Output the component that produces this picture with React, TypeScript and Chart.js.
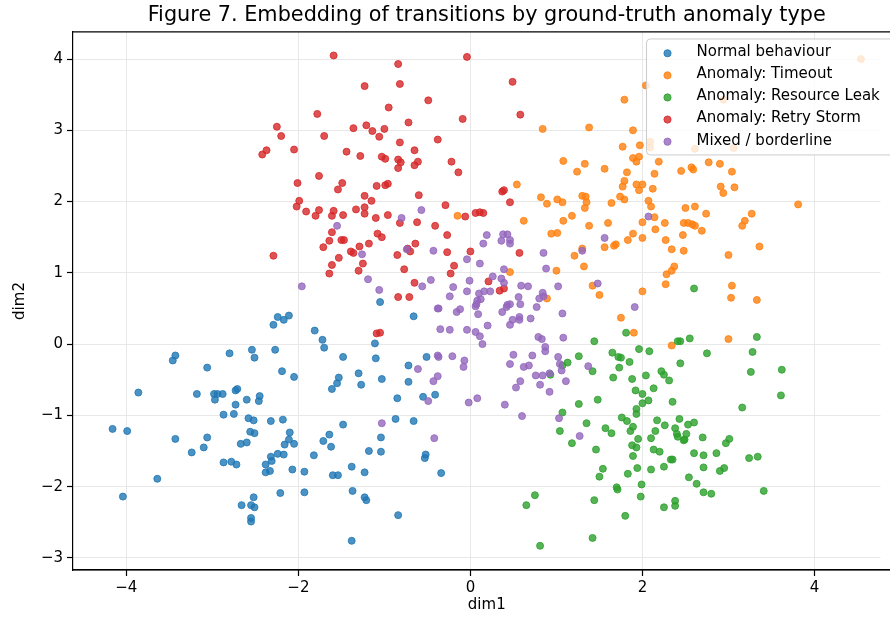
import { useEffect, useRef } from 'react';
import { Chart, registerables } from 'chart.js';

Chart.register(...registerables);

const TITLE = 'Figure 7. Embedding of transitions by ground-truth anomaly type';
const X_LABEL = 'dim1';
const Y_LABEL = 'dim2';
const X_TICKS = [-4, -2, 0, 2, 4];
const Y_TICKS = [-3, -2, -1, 0, 1, 2, 3, 4];

const SERIES_LABELS = [
  'Normal behaviour',
  'Anomaly: Timeout',
  'Anomaly: Resource Leak',
  'Anomaly: Retry Storm',
  'Mixed / borderline',
];
const SERIES_RGB = ['31,119,180', '255,127,14', '44,160,44', '214,39,40', '148,103,189'];

const normalPts: [number, number][] = [
  [-2.24, 0.38], [-2.29, 0.27], [-2.27, -0.08], [-3.43, -0.16], [-3.46, -0.23], [-2.80, -0.13],
  [-2.54, -0.08], [-2.51, -0.19], [-3.06, -0.33],
  [-1.05, 0.59], [-0.66, 0.39], [-2.17, 0.34], [-2.11, 0.40], [-1.81, 0.19], [-1.72, 0.06],
  [-1.70, -0.05], [-1.11, 0.01], [-1.48, -0.18], [-1.10, -0.20], [-0.51, -0.18], [-0.72, -0.30],
  [-2.19, -0.38], [-2.05, -0.46], [-1.53, -0.47], [-1.55, -0.55], [-1.61, -0.63], [-1.30, -0.41],
  [-1.27, -0.57], [-1.03, -0.49], [-0.72, -0.53],
  [-3.86, -0.68], [-3.18, -0.70], [-2.98, -0.70], [-2.94, -0.70], [-2.88, -0.70], [-2.97, -0.78],
  [-2.73, -0.65], [-2.71, -0.63], [-2.60, -0.78], [-2.45, -0.73], [-2.46, -0.80], [-2.73, -0.85],
  [-2.87, -0.99], [-2.75, -0.98], [-2.58, -1.04], [-2.52, -1.07], [-2.32, -1.08], [-4.16, -1.19],
  [-3.99, -1.22], [-3.43, -1.33], [-3.06, -1.31], [-3.24, -1.52], [-3.10, -1.45], [-2.56, -1.23],
  [-2.51, -1.25], [-2.67, -1.40], [-2.60, -1.38], [-2.87, -1.66], [-2.78, -1.65], [-2.72, -1.69],
  [-2.32, -1.58], [-2.31, -1.64], [-2.24, -1.54], [-2.38, -1.69], [-2.38, -1.80], [-2.33, -1.78],
  [-3.64, -1.89], [-4.04, -2.14], [-2.66, -2.26], [-2.55, -2.26], [-2.51, -2.29], [-2.52, -2.15],
  [-2.55, -2.44], [-2.55, -2.49],
  [-0.85, -0.76], [-0.55, -0.74], [-0.41, -0.71], [-2.18, -1.06], [-0.87, -1.05], [-0.66, -1.08],
  [-1.48, -1.13], [-2.10, -1.24], [-2.11, -1.34], [-2.16, -1.41], [-2.05, -1.40], [-2.17, -1.55],
  [-1.64, -1.27], [-1.71, -1.36], [-1.62, -1.44], [-1.82, -1.56], [-1.04, -1.31], [-1.18, -1.50],
  [-1.04, -1.51], [-2.07, -1.76], [-1.93, -1.79], [-1.60, -1.84], [-1.54, -1.84], [-1.38, -1.72],
  [-1.23, -1.80], [-0.52, -1.55], [-0.53, -1.60], [-0.34, -1.81], [-2.21, -2.09], [-1.93, -2.08],
  [-1.37, -2.06], [-1.23, -2.15], [-1.21, -2.19], [-0.84, -2.40], [-1.38, -2.76],
];

const timeoutPts: [number, number][] = [
  [-0.15, 1.80],
  [2.04, 3.63], [1.79, 3.43], [0.84, 3.02], [1.38, 3.04], [1.89, 3.00], [2.09, 2.84], [2.09, 2.76],
  [1.77, 2.77], [1.97, 2.79], [1.89, 2.61], [1.93, 2.56], [1.96, 2.63], [2.19, 2.56], [1.08, 2.57],
  [1.33, 2.53], [1.24, 2.42], [1.56, 2.46], [1.82, 2.41], [2.14, 2.39], [2.45, 2.43], [1.79, 2.29],
  [1.77, 2.21], [1.93, 2.24], [2.00, 2.24], [1.96, 2.16], [2.12, 2.18], [0.54, 2.24], [0.82, 2.06],
  [0.89, 1.97], [1.01, 2.03], [1.07, 1.99], [1.30, 2.08], [1.34, 2.07], [1.35, 1.99], [1.33, 1.91],
  [1.64, 1.98], [1.74, 2.07], [1.79, 2.03], [2.07, 2.01], [2.10, 1.93], [2.50, 1.91],
  [4.54, 4.00], [2.94, 3.43], [2.61, 2.74], [3.06, 2.75], [2.77, 2.55], [2.90, 2.53], [2.59, 2.45],
  [2.57, 2.48], [3.04, 2.42], [2.91, 2.21], [3.07, 2.20], [2.94, 2.12], [2.61, 1.93], [3.81, 1.96],
  [1.18, 1.80], [0.62, 1.73], [1.08, 1.73], [1.38, 1.66], [1.60, 1.70], [2.00, 1.71], [2.14, 1.78],
  [2.15, 1.61], [2.26, 1.70], [2.48, 1.70], [0.94, 1.55], [1.01, 1.56], [1.89, 1.55], [1.83, 1.46],
  [2.00, 1.49], [2.27, 1.46], [2.47, 1.53], [1.56, 1.36], [1.67, 1.38], [1.69, 1.40], [1.30, 1.34],
  [1.21, 1.24], [1.32, 1.09], [1.00, 1.03], [0.46, 1.01], [2.34, 1.33], [2.48, 1.31], [2.37, 1.09],
  [2.34, 1.03], [2.28, 0.98], [1.42, 0.82], [1.50, 0.69], [2.27, 0.84], [2.00, 0.74], [0.89, 0.64],
  [1.75, 0.37], [1.90, 0.16], [2.34, -0.02],
  [2.74, 1.83], [3.27, 1.83], [2.53, 1.70], [2.58, 1.68], [2.61, 1.66], [3.19, 1.73], [3.16, 1.66],
  [2.69, 1.59], [3.36, 1.37], [3.00, 1.25], [3.04, 0.82], [3.03, 0.65], [3.33, 0.62], [3.00, 0.07],
];

const leakPts: [number, number][] = [
  [1.81, 0.16], [1.44, 0.04], [1.26, -0.17], [1.13, -0.26], [1.07, -0.30], [0.93, -0.43], [1.42, -0.38],
  [1.65, -0.12], [1.72, -0.18], [1.75, -0.19], [1.85, -0.25], [1.73, -0.33], [1.96, -0.07], [2.08, -0.10],
  [2.41, 0.04], [2.44, 0.04], [2.44, -0.27], [2.04, -0.44], [2.22, -0.38], [2.25, -0.43], [2.31, -0.51],
  [1.66, -0.47], [1.88, -0.49], [2.13, -0.62],
  [2.60, 0.78], [2.55, 0.08], [3.33, 0.10], [2.75, -0.13], [3.28, -0.11], [3.26, -0.39], [3.62, -0.36],
  [1.48, -0.78], [1.26, -0.84], [1.07, -0.96], [1.04, -1.22], [1.35, -1.11], [1.18, -1.39], [1.46, -1.48],
  [1.57, -1.18], [1.64, -1.25], [1.76, -1.03], [1.82, -1.08], [1.89, -1.16], [1.86, -1.22], [1.93, -0.91],
  [1.93, -0.98], [1.92, -0.65], [2.00, -0.70], [2.07, -0.79], [2.00, -0.83], [1.95, -1.33], [1.88, -1.42],
  [1.93, -1.45], [1.89, -1.57], [1.94, -1.74], [1.83, -1.82], [1.54, -1.75], [1.50, -1.86], [2.10, -1.76],
  [2.10, -1.32], [2.15, -1.22], [2.17, -1.07], [2.26, -1.14], [2.35, -0.81], [2.43, -1.05], [2.38, -1.18],
  [2.40, -1.26], [2.41, -1.30], [2.48, -1.35], [2.13, -1.48], [2.20, -1.51], [2.33, -1.62], [2.35, -1.62],
  [2.25, -1.72], [1.99, -1.97], [1.98, -2.14], [1.70, -2.01], [1.71, -2.04], [1.44, -2.19], [1.80, -2.41],
  [2.38, -2.20], [2.38, -2.27], [2.25, -2.29], [0.75, -2.12], [0.65, -2.26], [1.42, -2.72], [0.81, -2.83],
  [3.61, -0.72], [3.16, -0.89], [2.60, -1.10], [2.53, -1.13], [2.51, -1.26], [2.49, -1.34], [2.70, -1.31],
  [3.01, -1.33], [2.97, -1.39], [2.60, -1.53], [2.71, -1.56], [2.86, -1.53], [3.24, -1.60], [3.34, -1.58],
  [2.71, -1.73], [2.90, -1.78], [2.95, -1.74], [2.54, -1.87], [2.63, -1.96], [2.71, -2.08], [2.80, -2.10],
  [3.41, -2.06],
];

const retryPts: [number, number][] = [
  [-2.37, 2.72], [-2.42, 2.66],
  [-1.59, 4.05], [-0.84, 3.93], [-0.04, 4.03], [-1.23, 3.62], [-0.82, 3.65], [-0.49, 3.42], [-0.95, 3.32],
  [-1.78, 3.23], [-0.09, 3.16], [-0.72, 3.11], [-2.25, 3.05], [-2.20, 2.92], [-1.36, 3.03], [-1.21, 3.07],
  [-1.14, 2.99], [-1.00, 3.02], [-1.06, 2.91], [-1.70, 2.92], [-0.38, 2.87], [-2.05, 2.73], [-0.82, 2.83],
  [-1.44, 2.70], [-1.28, 2.64], [-1.03, 2.63], [-0.99, 2.60], [-0.65, 2.72], [-0.84, 2.59], [-0.81, 2.55],
  [-0.61, 2.56], [-0.65, 2.51], [-0.84, 2.47], [-0.22, 2.56], [-0.14, 2.41], [-1.76, 2.36], [-2.01, 2.26],
  [-1.49, 2.26], [-1.54, 2.17], [-1.09, 2.22], [-0.99, 2.23], [-0.96, 2.25], [-0.60, 2.09], [-1.23, 2.08],
  [-1.15, 2.01], [-1.99, 2.01], [-2.02, 1.93], [-0.29, 1.95], [-1.33, 1.89], [-1.23, 1.92],
  [0.49, 3.68], [0.58, 3.22], [0.39, 2.16], [0.37, 2.14], [0.46, 1.99],
  [-1.91, 1.86], [-1.80, 1.80], [-1.61, 1.80], [-1.59, 1.87], [-1.76, 1.88], [-1.48, 1.81], [-1.23, 1.83],
  [-1.10, 1.77], [-0.96, 1.81], [-0.82, 1.70], [-0.62, 1.71], [-0.41, 1.66], [-0.27, 1.53], [-0.06, 1.79],
  [0.06, 1.84], [0.11, 1.85], [0.15, 1.84],
  [-1.71, 1.36], [-1.64, 1.45], [-1.61, 1.57], [-1.50, 1.46], [-1.47, 1.46], [-1.39, 1.30], [-1.36, 1.28],
  [-1.29, 1.37], [-1.18, 1.41], [-1.08, 1.55], [-1.03, 1.50], [-0.85, 1.25], [-0.73, 1.34], [-0.70, 1.30],
  [-0.64, 1.41], [-0.77, 1.05], [-0.65, 0.86], [-0.84, 0.66], [-0.71, 0.66], [-1.61, 1.11], [-1.64, 0.99],
  [-1.53, 1.21], [-1.30, 1.03], [-1.25, 1.13], [-0.27, 1.29], [-0.19, 1.10], [-0.23, 0.99], [0.00, 1.30],
  [-1.09, 0.15], [-1.05, 0.16],
  [-2.29, 1.24],
  [0.57, 1.28], [0.21, 0.88], [0.34, 0.75], [0.39, 0.78],
];

const mixedPts: [number, number][] = [
  [-0.80, 1.77], [-1.55, 1.66], [-0.57, 1.88], [-1.26, 1.26], [-0.74, 1.33], [-0.43, 1.31], [-0.04, 1.19],
  [0.11, 1.13], [-1.96, 0.81], [-1.19, 0.91], [-1.06, 0.76], [-0.56, 0.81], [-0.46, 0.90], [-0.20, 0.80],
  [-0.24, 0.67], [-0.01, 0.89], [-0.04, 0.74], [0.10, 0.71], [0.07, 0.56], [0.08, 0.61], [0.06, 0.53],
  [0.09, 0.42], [-0.38, 0.50], [-0.37, 0.50], [-0.16, 0.45], [-0.12, 0.49], [-0.35, 0.21], [-0.24, 0.20],
  [-0.04, 0.20], [0.06, 0.17], [0.11, 0.11], [-0.38, -0.16], [-0.37, -0.18], [-0.21, -0.17], [-0.07, -0.23],
  [-0.08, -0.32], [-0.61, -0.35], [-0.38, -0.45], [-0.43, -0.52],
  [2.07, 1.79], [0.19, 1.53], [0.38, 1.54], [0.43, 1.54], [0.36, 1.45], [0.46, 1.46], [0.46, 1.41],
  [0.15, 1.41], [1.56, 1.49], [1.30, 1.31], [0.85, 1.28], [0.88, 1.06], [0.39, 1.05], [0.26, 0.95],
  [0.36, 0.92], [0.39, 0.86], [0.16, 0.74], [0.23, 0.74], [0.12, 0.63], [0.59, 0.82], [0.67, 0.81],
  [1.02, 0.81], [0.84, 0.72], [0.80, 0.64], [0.85, 0.67], [0.56, 0.66], [0.58, 0.56], [0.43, 0.55],
  [0.46, 0.56], [0.42, 0.52], [0.77, 0.52], [1.48, 0.85], [1.91, 0.52], [0.37, 0.45], [0.49, 0.34],
  [0.57, 0.38], [0.57, 0.34], [0.46, 0.27], [0.70, 0.36], [1.07, 0.43], [0.20, 0.26], [0.14, 0.00],
  [0.79, 0.10], [0.83, 0.07], [0.87, -0.04], [0.87, -0.10], [1.08, 0.09], [0.50, -0.15], [0.72, -0.16],
  [1.02, -0.18], [0.46, -0.28], [0.62, -0.32], [0.68, -0.30], [1.04, -0.28], [1.06, -0.37], [1.37, -0.31],
  [0.76, -0.44], [0.84, -0.44], [0.92, -0.41], [0.58, -0.52], [0.81, -0.57], [1.11, -0.52], [0.53, -0.61],
  [-0.49, -0.80], [-0.02, -0.82], [0.08, -0.76], [-1.03, -1.11], [-0.42, -1.32],
  [0.92, -0.67], [0.40, -0.85], [0.60, -1.01], [1.03, -1.04], [1.27, -1.29],
];

const SERIES_POINTS = [normalPts, timeoutPts, leakPts, retryPts, mixedPts];

const FONT_FAMILY = 'DejaVu Sans';
const fmtTick = (v: number) => (v < 0 ? '\u2212' + Math.abs(v) : String(v));

const framePlugin = {
  id: 'frameAndLegend',
  afterDraw(chart: any) {
    const { ctx, chartArea, width } = chart;
    ctx.save();
    // keep the area right of the visible crop clean
    ctx.fillStyle = '#fff';
    ctx.fillRect(chartArea.right - 20, chartArea.top + 1, width - chartArea.right + 20, chartArea.bottom - chartArea.top - 2);
    // top spine
    ctx.strokeStyle = '#000';
    ctx.lineWidth = 1.2;
    ctx.beginPath();
    ctx.moveTo(chartArea.left, chartArea.top);
    ctx.lineTo(width, chartArea.top);
    ctx.stroke();
    // bottom spine continuation
    ctx.beginPath();
    ctx.moveTo(chartArea.left, chartArea.bottom);
    ctx.lineTo(width, chartArea.bottom);
    ctx.stroke();

    // legend
    const left = chartArea.right - 254;
    const top = chartArea.top + 7;
    const w = 262;
    const h = 116;
    ctx.beginPath();
    if (ctx.roundRect) ctx.roundRect(left, top, w, h, 4);
    else ctx.rect(left, top, w, h);
    ctx.fillStyle = 'rgba(255,255,255,0.8)';
    ctx.fill();
    ctx.strokeStyle = '#cccccc';
    ctx.lineWidth = 1;
    ctx.stroke();
    ctx.font = `15px "${FONT_FAMILY}"`;
    ctx.textBaseline = 'middle';
    ctx.textAlign = 'left';
    SERIES_LABELS.forEach((label, i) => {
      const y = top + 14.3 + i * 22.1;
      ctx.beginPath();
      ctx.arc(left + 21, y, 3.6, 0, Math.PI * 2);
      ctx.fillStyle = `rgba(${SERIES_RGB[i]},0.8)`;
      ctx.fill();
      ctx.strokeStyle = `rgba(${SERIES_RGB[i]},0.8)`;
      ctx.lineWidth = 1;
      ctx.stroke();
      ctx.fillStyle = '#000';
      ctx.fillText(label, left + 50, y - 1);
    });
    ctx.restore();
  },
};

export default function App() {
  const canvasRef = useRef<HTMLCanvasElement | null>(null);

  useEffect(() => {
    if (!canvasRef.current) return;
    const tickFont = { family: FONT_FAMILY, size: 15 };
    const datasets = SERIES_LABELS.map((label, i) => ({
      label,
      data: SERIES_POINTS[i].map(([x, y]) => ({ x, y })),
      backgroundColor: `rgba(${SERIES_RGB[i]},0.8)`,
      borderColor: `rgba(${SERIES_RGB[i]},0.8)`,
      borderWidth: 1,
      pointRadius: 3.5,
      pointHoverRadius: 3.5,
      order: SERIES_LABELS.length - i,
    }));
    const chart = new Chart(canvasRef.current, {
      type: 'scatter',
      data: { datasets },
      plugins: [framePlugin],
      options: {
        animation: false,
        responsive: false,
        events: [],
        layout: { padding: { left: 0, right: 4, top: 0, bottom: 0 } },
        plugins: {
          legend: { display: false },
          tooltip: { enabled: false },
          title: {
            display: true,
            text: TITLE,
            fullSize: false,
            color: '#000',
            font: { family: FONT_FAMILY, size: 20.8, weight: 'normal', lineHeight: 1.2 },
            padding: { top: 3, bottom: 4 },
          },
        },
        scales: {
          x: {
            type: 'linear',
            min: -4.62,
            max: 5.0,
            afterBuildTicks: (s: any) => {
              s.ticks = X_TICKS.map((v) => ({ value: v }));
            },
            afterFit: (s: any) => {
              s.height = 55;
            },
            ticks: { font: tickFont, color: '#000', padding: 3, callback: (v: any) => fmtTick(Number(v)) },
            grid: { color: '#e8e8e8', lineWidth: 1, tickColor: '#000', tickLength: 6, tickWidth: 1.2 },
            border: { display: true, color: '#000', width: 1.2 },
            title: { display: true, text: X_LABEL, color: '#000', font: tickFont, padding: { top: 0, bottom: 11 } },
          },
          y: {
            type: 'linear',
            min: -3.17,
            max: 4.38,
            afterBuildTicks: (s: any) => {
              s.ticks = Y_TICKS.map((v) => ({ value: v }));
            },
            afterFit: (s: any) => {
              s.width = 73;
            },
            ticks: { font: tickFont, color: '#000', padding: 4, callback: (v: any) => fmtTick(Number(v)) },
            grid: { color: '#e8e8e8', lineWidth: 1, tickColor: '#000', tickLength: 6, tickWidth: 1.2 },
            border: { display: true, color: '#000', width: 1.2 },
            title: { display: true, text: Y_LABEL, color: '#000', font: tickFont, padding: { top: 11, bottom: 0 } },
          },
        },
      } as any,
    });
    return () => chart.destroy();
  }, []);

  return (
    <div
      style={{
        position: 'fixed',
        left: 0,
        top: 0,
        width: 890,
        height: 625,
        overflow: 'hidden',
        background: '#fff',
      }}
    >
      <canvas ref={canvasRef} width={905} height={625} style={{ display: 'block' }} />
    </div>
  );
}
